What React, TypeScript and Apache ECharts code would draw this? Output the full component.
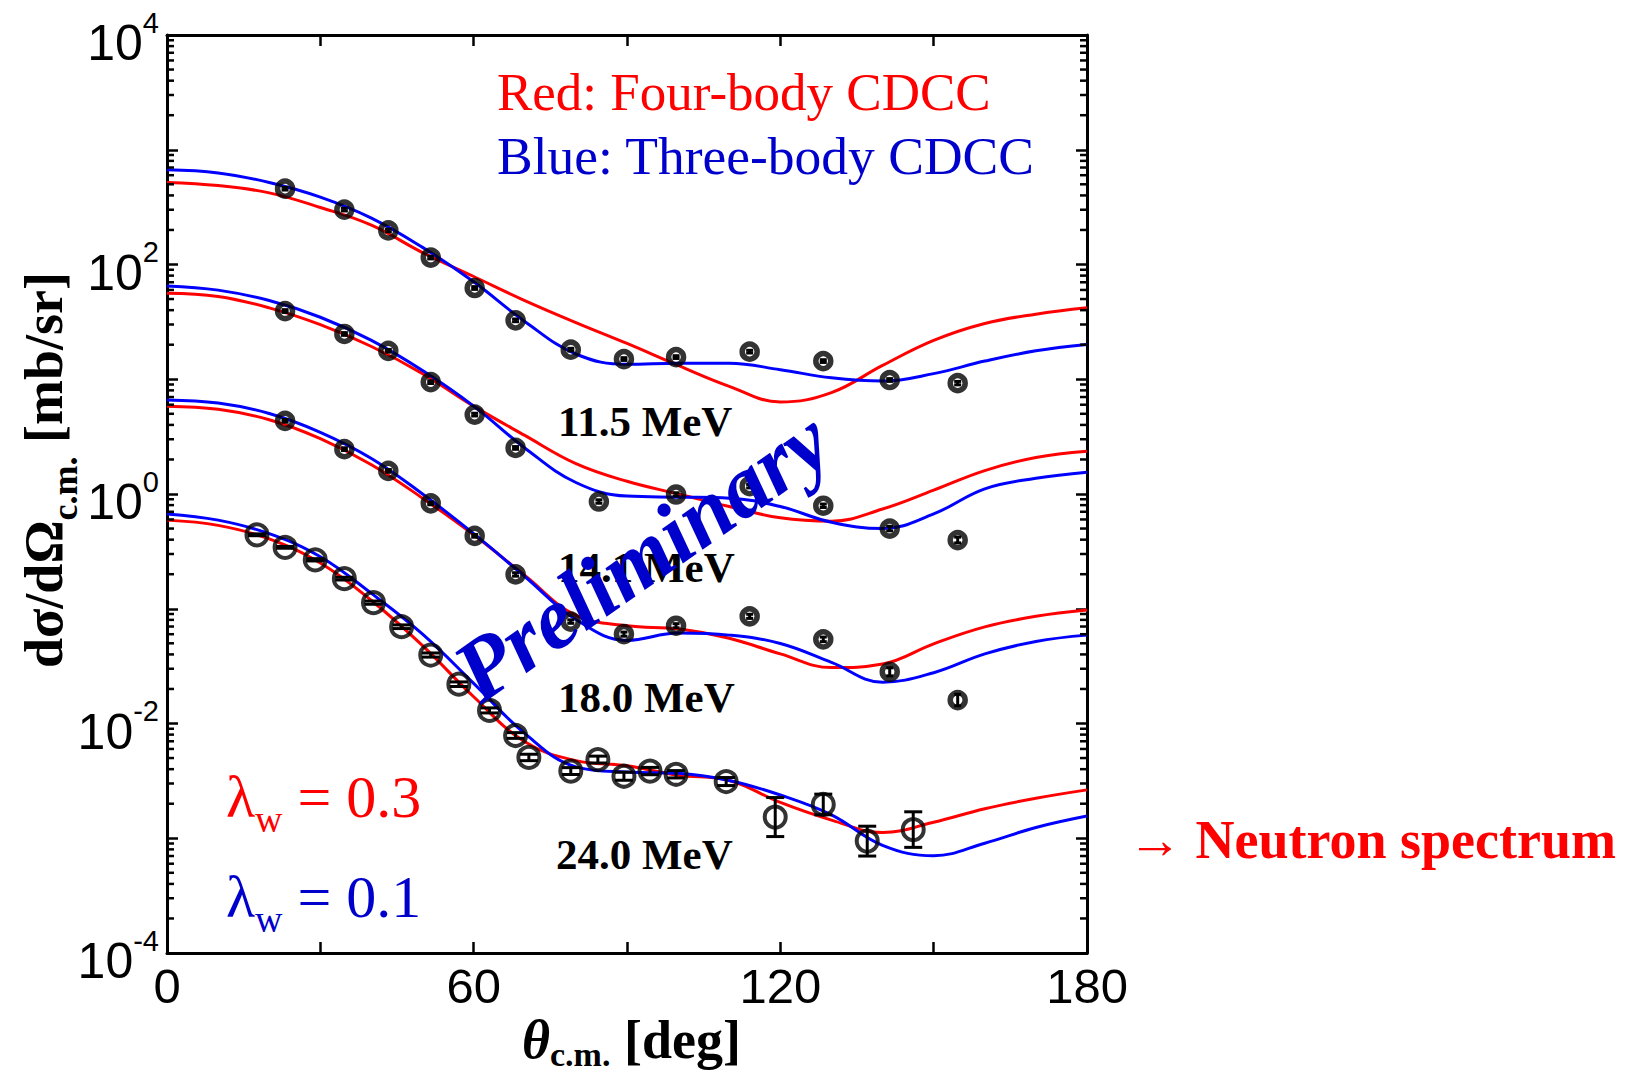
import React, { useEffect, useRef } from 'react';
import * as echarts from 'echarts';

// ---------- data ----------
const curveAngles = [0, 10, 20, 30, 40, 50, 60, 70, 80, 90, 100, 110, 120, 130, 140, 150, 160, 170, 180];

// Red: four-body CDCC, Blue: three-body CDCC
const four115 = [519, 487, 421, 314, 220, 127, 78.6, 48.5, 31.2, 20.5, 13.2, 8.68, 6.34, 7.65, 13.2, 21.8, 30.6, 36.9, 41.9];
const three115 = [668, 627, 519, 387, 254, 141, 70.7, 31.9, 16.6, 13.5, 13.8, 13.8, 12.1, 10.3, 9.64, 11.2, 14.4, 17.7, 20.1];
const four141 = [56.2, 52.7, 41.9, 29.9, 19.3, 11.2, 5.83, 3.24, 1.84, 1.29, 1.0, 0.777, 0.62, 0.58, 0.74, 1.08, 1.6, 2.08, 2.36];
const three141 = [65.1, 59.8, 48.5, 34.7, 21.8, 11.9, 5.83, 2.52, 1.26, 0.959, 0.939, 0.92, 0.777, 0.567, 0.5, 0.671, 1.11, 1.37, 1.55];
const four180 = [5.83, 5.47, 4.44, 3.04, 1.8, 0.92, 0.441, 0.195, 0.0877, 0.0711, 0.0668, 0.0553, 0.0404, 0.0307, 0.033, 0.0495, 0.0695, 0.0859, 0.0974];
const three180 = [6.61, 6.2, 5.03, 3.45, 2.04, 1.0, 0.451, 0.191, 0.0807, 0.053, 0.0614, 0.0589, 0.0498, 0.0341, 0.0229, 0.0277, 0.0404, 0.0519, 0.0589];
const four240 = [0.592, 0.533, 0.406, 0.25, 0.118, 0.0477, 0.0171, 0.00693, 0.00475, 0.00428, 0.00354, 0.00319, 0.00205, 0.00144, 0.00112, 0.00138, 0.00181, 0.00223, 0.00264];
const three240 = [0.671, 0.592, 0.451, 0.284, 0.136, 0.0601, 0.0224, 0.00819, 0.00419, 0.00377, 0.00369, 0.00319, 0.00238, 0.0016, 0.000868, 0.000704, 0.000905, 0.00124, 0.00156];

// experimental points: angle, value, half error (in decades)
const pts115Ang = [23.1, 34.7, 43.3, 51.6, 60.2, 68.2, 79.0, 89.4, 99.6, 114.0, 128.4, 141.4, 154.7];
const pts115Val = [458, 301, 198, 115, 62.4, 32.6, 18.1, 15.0, 15.6, 17.4, 14.4, 9.85, 9.25];
const pts115Err = [0.012, 0.012, 0.012, 0.012, 0.012, 0.012, 0.012, 0.012, 0.012, 0.012, 0.012, 0.012, 0.015];

const pts141Ang = [23.1, 34.7, 43.3, 51.6, 60.2, 68.2, 84.5, 99.6, 114.0, 128.4, 141.4, 154.7];
const pts141Val = [39.3, 24.8, 17.7, 9.44, 4.92, 2.52, 0.86, 0.99, 1.17, 0.79, 0.5, 0.397];
const pts141Err = [0.012, 0.012, 0.012, 0.012, 0.012, 0.012, 0.015, 0.015, 0.015, 0.015, 0.02, 0.025];

const pts180Ang = [23.1, 34.7, 43.3, 51.6, 60.2, 68.2, 79.0, 89.4, 99.6, 114.0, 128.4, 141.4, 154.7];
const pts180Val = [4.34, 2.46, 1.59, 0.828, 0.432, 0.199, 0.0773, 0.0601, 0.0711, 0.0859, 0.0541, 0.0282, 0.016];
const pts180Err = [0.012, 0.012, 0.012, 0.012, 0.012, 0.015, 0.015, 0.018, 0.018, 0.018, 0.02, 0.035, 0.05];

const pts240Ang = [17.6, 23.1, 29.0, 34.7, 40.4, 45.9, 51.6, 57.1, 63.1, 68.2, 70.8, 79.0, 84.3, 89.4, 94.5, 99.6, 109.4, 119.0, 128.4, 137.0, 146.0];
const pts240Val = [0.441, 0.343, 0.267, 0.183, 0.113, 0.0697, 0.0395, 0.022, 0.013, 0.00786, 0.00506, 0.00385, 0.00485, 0.00347, 0.00385, 0.00361, 0.00312, 0.00153, 0.00197, 0.000944, 0.00119];
const pts240Err = [0.008, 0.008, 0.01, 0.012, 0.014, 0.016, 0.018, 0.02, 0.022, 0.025, 0.028, 0.03, 0.03, 0.035, 0.032, 0.032, 0.035, 0.17, 0.09, 0.13, 0.155];

const xTickLabels = [0, 60, 120, 180];
const yTickExponents = [-4, -2, 0, 2, 4];

const energyLabels = ['11.5 MeV', '14.1 MeV', '18.0 MeV', '24.0 MeV'];

// ---------- styling ----------
const SERIF = "'Liberation Serif', 'Times New Roman', serif";
const SANS = "'Liberation Sans', Arial, sans-serif";
const RED = '#ff0000';
const BLUE = '#0000ff';
const TEXT_BLUE = '#0000cc';

const minorTickValues: number[] = [];
for (let d = -4; d < 4; d++) {
  for (let m = 2; m <= 9; m++) minorTickValues.push(m * Math.pow(10, d));
}

function lineSeries(vals: number[], color: string) {
  return {
    type: 'line',
    data: curveAngles.map((a, i) => [a, vals[i]]),
    showSymbol: false,
    smooth: 0.4,
    lineStyle: { color, width: 3 },
    itemStyle: { color },
    z: 3,
    silent: true,
  };
}

function scatterSeries(ang: number[], val: number[], size: number, border: number) {
  return {
    type: 'scatter',
    data: ang.map((a, i) => [a, val[i]]),
    symbol: 'circle',
    symbolSize: size,
    itemStyle: { color: 'rgba(255,255,255,0)', borderColor: '#000', borderWidth: border },
    z: 5,
    silent: true,
  };
}

function errorSeries(ang: number[], val: number[], err: number[], cap: number) {
  return {
    type: 'custom',
    coordinateSystem: 'cartesian2d',
    data: ang.map((a, i) => [a, val[i] / Math.pow(10, err[i]), val[i] * Math.pow(10, err[i])]),
    encode: { x: 0, y: [1, 2] },
    z: 5,
    silent: true,
    renderItem: (_p: any, api: any) => {
      const lo = api.coord([api.value(0), api.value(1)]);
      const hi = api.coord([api.value(0), api.value(2)]);
      const st = { stroke: '#000', lineWidth: 3 };
      return {
        type: 'group',
        children: [
          { type: 'line', shape: { x1: lo[0], y1: lo[1], x2: hi[0], y2: hi[1] }, style: st },
          { type: 'line', shape: { x1: lo[0] - cap / 2, y1: lo[1], x2: lo[0] + cap / 2, y2: lo[1] }, style: st },
          { type: 'line', shape: { x1: hi[0] - cap / 2, y1: hi[1], x2: hi[0] + cap / 2, y2: hi[1] }, style: st },
        ],
      };
    },
  };
}

const minorTickSeries = {
  type: 'custom',
  coordinateSystem: 'cartesian2d',
  data: minorTickValues.map((v) => [0, v]),
  encode: { x: 0, y: 1 },
  z: 6,
  silent: true,
  renderItem: (_p: any, api: any) => {
    const l = api.coord([0, api.value(1)]);
    const r = api.coord([180, api.value(1)]);
    const st = { stroke: '#000', lineWidth: 2.5 };
    const len = 7;
    return {
      type: 'group',
      children: [
        { type: 'line', shape: { x1: l[0], y1: l[1], x2: l[0] + len, y2: l[1] }, style: st },
        { type: 'line', shape: { x1: r[0], y1: r[1], x2: r[0] - len, y2: r[1] }, style: st },
      ],
    };
  },
};

const axisLineStyle = { lineStyle: { color: '#000', width: 3 } };
const tickStyle = { inside: true, length: 11, lineStyle: { color: '#000', width: 2.5 } };

const option: any = {
  animation: false,
  backgroundColor: '#fff',
  grid: { left: 167, top: 35, width: 920, height: 918, containLabel: false, outerBoundsMode: 'none' },
  xAxis: [
    {
      type: 'value', min: 0, max: 180, interval: 30, position: 'bottom',
      axisLine: { show: true, onZero: false, ...axisLineStyle },
      axisTick: tickStyle,
      splitLine: { show: false },
      axisLabel: {
        margin: 9,
        fontFamily: SANS, fontSize: 49, lineHeight: 48, color: '#000',
        formatter: (v: number) => (xTickLabels.includes(v) ? String(v) : ''),
      },
    },
    {
      type: 'value', min: 0, max: 180, interval: 30, position: 'top',
      axisLine: { show: true, onZero: false, ...axisLineStyle },
      axisTick: tickStyle,
      splitLine: { show: false },
      axisLabel: { show: false },
    },
  ],
  yAxis: [
    {
      type: 'log', logBase: 10, min: 1e-4, max: 1e4, splitNumber: 8, position: 'left',
      axisLine: { show: true, onZero: false, ...axisLineStyle },
      axisTick: tickStyle,
      splitLine: { show: false },
      axisLabel: {
        margin: 8,
        color: '#000',
        lineHeight: 70,
        formatter: (v: number) => {
          const e = Math.round(Math.log10(v));
          return yTickExponents.includes(e) ? `{b|10}{s|${e}}` : '';
        },
        rich: {
          b: { fontFamily: SANS, fontSize: 50, lineHeight: 70, padding: [0, 0, 2, 0], verticalAlign: 'bottom', color: '#000' },
          s: { fontFamily: SANS, fontSize: 29, lineHeight: 29, padding: [8, 0, 0, 0], verticalAlign: 'top', color: '#000' },
        },
      },
    },
    {
      type: 'log', logBase: 10, min: 1e-4, max: 1e4, splitNumber: 8, position: 'right',
      axisLine: { show: true, onZero: false, ...axisLineStyle },
      axisTick: tickStyle,
      splitLine: { show: false },
      axisLabel: { show: false },
    },
  ],
  series: [
    lineSeries(four115, RED), lineSeries(three115, BLUE),
    lineSeries(four141, RED), lineSeries(three141, BLUE),
    lineSeries(four180, RED), lineSeries(three180, BLUE),
    lineSeries(four240, RED), lineSeries(three240, BLUE),
    errorSeries(pts115Ang, pts115Val, pts115Err, 7),
    errorSeries(pts141Ang, pts141Val, pts141Err, 7),
    errorSeries(pts180Ang, pts180Val, pts180Err, 7),
    errorSeries(pts240Ang, pts240Val, pts240Err, 18),
    scatterSeries(pts115Ang, pts115Val, 15, 5.5),
    scatterSeries(pts141Ang, pts141Val, 15, 5.5),
    scatterSeries(pts180Ang, pts180Val, 15, 5.5),
    scatterSeries(pts240Ang, pts240Val, 21, 4),
    minorTickSeries,
  ],
  graphic: [
    { type: 'text', x: 497, y: 92, z: 10,
      style: { text: 'Red: Four-body CDCC', fill: RED, fontFamily: SERIF, fontSize: 53, align: 'left', verticalAlign: 'middle' } },
    { type: 'text', x: 497, y: 156, z: 10,
      style: { text: 'Blue: Three-body CDCC', fill: TEXT_BLUE, fontFamily: SERIF, fontSize: 53.5, align: 'left', verticalAlign: 'middle' } },
    ...energyLabels.map((t, i) => ({
      type: 'text', x: [558, 558, 558, 556][i], y: [421, 567, 697, 854][i], z: 8,
      style: { text: t, fill: '#000', fontFamily: SERIF, fontWeight: 'bold', fontSize: 43, align: 'left', verticalAlign: 'middle' },
    })),
    { type: 'text', x: 642, y: 556, rotation: 0.611, z: 20,
      style: { text: 'Preliminary', fill: TEXT_BLUE, fontFamily: SERIF, fontWeight: 'bold', fontStyle: 'italic', fontSize: 88, align: 'center', verticalAlign: 'middle' } },
    { type: 'text', x: 226, y: 767, z: 10,
      style: {
        text: '{l|λ}{w|w}{l| = 0.3}', align: 'left', verticalAlign: 'top',
        rich: {
          l: { fontFamily: SERIF, fontSize: 60, lineHeight: 60, verticalAlign: 'top', fill: RED },
          w: { fontFamily: SERIF, fontSize: 38, lineHeight: 38, padding: [33, 0, 0, 0], verticalAlign: 'top', fill: RED },
        },
      } },
    { type: 'text', x: 226, y: 867, z: 10,
      style: {
        text: '{l|λ}{w|w}{l| = 0.1}', align: 'left', verticalAlign: 'top',
        rich: {
          l: { fontFamily: SERIF, fontSize: 60, lineHeight: 60, verticalAlign: 'top', fill: TEXT_BLUE },
          w: { fontFamily: SERIF, fontSize: 38, lineHeight: 38, padding: [33, 0, 0, 0], verticalAlign: 'top', fill: TEXT_BLUE },
        },
      } },
    { type: 'text', x: 1128, y: 840, z: 10,
      style: {
        text: '{r|→ }{b|Neutron spectrum}', align: 'left', verticalAlign: 'middle',
        rich: {
          r: { fontFamily: SERIF, fontSize: 54, fill: RED },
          b: { fontFamily: SERIF, fontSize: 54, fontWeight: 'bold', fill: RED },
        },
      } },
    { type: 'text', x: 44, y: 470, rotation: Math.PI / 2, z: 10,
      style: {
        text: '{a|dσ/dΩ}{s|c.m.}{a| [mb/sr]}', align: 'center', verticalAlign: 'middle',
        rich: {
          a: { fontFamily: SERIF, fontWeight: 'bold', fontSize: 54, lineHeight: 54, fill: '#000' },
          s: { fontFamily: SERIF, fontWeight: 'bold', fontSize: 36, lineHeight: 36, padding: [30, 0, 0, 0], verticalAlign: 'top', fill: '#000' },
        },
      } },
    { type: 'text', x: 522, y: 1040, z: 10,
      style: {
        text: '{t|θ}{s|c.m.}{a| [deg]}', align: 'left', verticalAlign: 'middle',
        rich: {
          t: { fontFamily: SERIF, fontWeight: 'bold', fontStyle: 'italic', fontSize: 54, lineHeight: 54, fill: '#000' },
          a: { fontFamily: SERIF, fontWeight: 'bold', fontSize: 54, lineHeight: 54, fill: '#000' },
          s: { fontFamily: SERIF, fontWeight: 'bold', fontSize: 34, lineHeight: 34, padding: [24, 0, 0, 0], verticalAlign: 'top', fill: '#000' },
        },
      } },
  ],
};

export default function App() {
  const ref = useRef<HTMLDivElement>(null);
  useEffect(() => {
    document.body.style.margin = '0';
    const chart = echarts.init(ref.current as HTMLDivElement, null, { renderer: 'svg' });
    chart.setOption(option);
    return () => chart.dispose();
  }, []);
  return <div ref={ref} style={{ width: 1636, height: 1071 }} />;
}
